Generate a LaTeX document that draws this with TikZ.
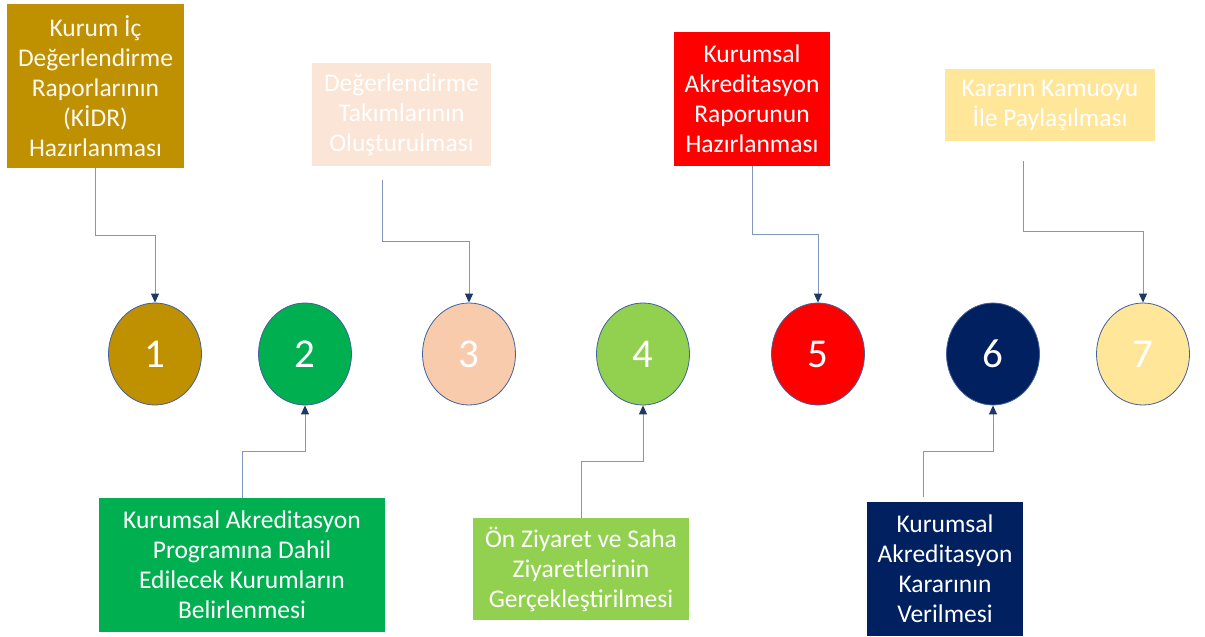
\documentclass[tikz,border=0pt]{standalone}
\usepackage{fontspec}
\setmainfont{Carlito}
\usepackage{xcolor}
\usepackage{tikz}
\usetikzlibrary{calc}
\usetikzlibrary{arrows.meta,shapes.geometric}

\definecolor{gold}{HTML}{BF9000}
\definecolor{kgreen}{HTML}{00B050}
\definecolor{peach}{HTML}{F8CBAD}
\definecolor{lightpeach}{HTML}{FBE5D6}
\definecolor{lgreen}{HTML}{92D050}
\definecolor{kred}{HTML}{FF0000}
\definecolor{knavy}{HTML}{002060}
\definecolor{kyellow}{HTML}{FFE699}
\definecolor{edgeblue}{HTML}{41609C}
\definecolor{linkblue}{HTML}{8096BC}
\definecolor{tipnavy}{HTML}{1F3864}

\tikzset{
  stepnum/.style={ellipse,draw=edgeblue,line width=0.8pt,minimum width=93pt,minimum height=102pt,
    inner sep=0pt,text=white,font=\fontsize{41}{48}\selectfont},
  stepbox/.style={rectangle,inner sep=0pt,align=center,text=white,font=\fontsize{25.5}{30}\selectfont},
  link/.style={draw=linkblue,line width=0.9pt,-{Triangle[length=9pt,width=8pt,color=tipnavy]}}
}

\begin{document}
\begin{tikzpicture}[x=1pt,y=-1pt]
\useasboundingbox (0,0) rectangle (1205,637);

% Step circles
\node[stepnum,fill=gold] (c1) at (155,354) {1};
\node[stepnum,fill=kgreen] (c2) at (305,354) {2};
\node[stepnum,fill=peach] (c3) at (469,354) {3};
\node[stepnum,fill=lgreen] (c4) at (643,354) {4};
\node[stepnum,fill=kred] (c5) at (818,354) {5};
\node[stepnum,fill=knavy] (c6) at (993,354) {6};
\node[stepnum,fill=kyellow] (c7) at (1143,354) {7};

% Boxes above
\node[stepbox,fill=gold,text=white!95!gold,minimum width=177pt,minimum height=164pt] (b1) at (95.5,86)
  {Kurum İç\\Değerlendirme\\Raporlarının\\(KİDR)\\Hazırlanması};
\node[stepbox,fill=lightpeach,minimum width=179pt,minimum height=103pt] (b3) at (401.5,114.5)
  {Değerlendirme\\Takımlarının\\Oluşturulması};
\node[stepbox,fill=kred,minimum width=156pt,minimum height=134pt] (b5) at (752,99)
  {Kurumsal\\Akreditasyon\\Raporunun\\Hazırlanması};
\node[stepbox,fill=kyellow,minimum width=210pt,minimum height=72pt] (b7) at (1050,105)
  {Kararın Kamuoyu\\İle Paylaşılması};

% Boxes below
\node[stepbox,fill=kgreen,minimum width=286pt,minimum height=134pt] (b2) at (242,565)
  {Kurumsal Akreditasyon\\Programına Dahil\\Edilecek Kurumların\\Belirlenmesi};
\node[stepbox,fill=lgreen,minimum width=216pt,minimum height=102pt] (b4) at (581,569)
  {Ön Ziyaret ve Saha\\Ziyaretlerinin\\Gerçekleştirilmesi};
\node[stepbox,fill=knavy,minimum width=156pt,minimum height=134pt] (b6) at (945,569)
  {Kurumsal\\Akreditasyon\\Kararının\\Verilmesi};

% Free line ends
\coordinate (s3) at (382,180);
\coordinate (s7) at (1023,161);
\coordinate (s6) at (923,497);

% Connectors
\draw[link] (b1.south) |- ($(b1.south)!0.5!(c1.north)$) -| (c1.north);
\draw[link] (s3) |- ($(s3)!0.5!(c3.north)$) -| (c3.north);
\draw[link] (b5.south) |- ($(b5.south)!0.5!(c5.north)$) -| (c5.north);
\draw[link] (s7) |- ($(s7)!0.5!(c7.north)$) -| (c7.north);
\draw[link] (b2.north) |- ($(b2.north)!0.5!(c2.south)$) -| (c2.south);
\draw[link] (b4.north) |- ($(b4.north)!0.5!(c4.south)$) -| (c4.south);
\draw[link] (s6) |- ($(s6)!0.5!(c6.south)$) -| (c6.south);
\end{tikzpicture}
\end{document}
